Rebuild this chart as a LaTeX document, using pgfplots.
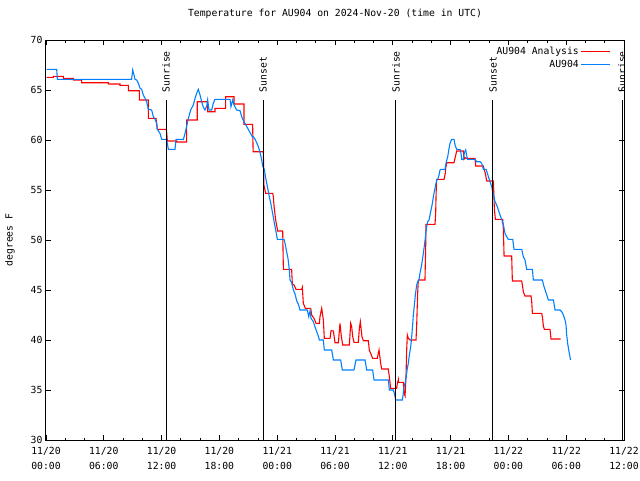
\documentclass[border=0pt]{standalone}
\usepackage{pgfplots}
\pgfplotsset{compat=1.18}
\usepackage{fontspec}
\setmainfont{DejaVu Sans Mono}
\definecolor{obsblue}{RGB}{0,128,255}
\definecolor{anared}{RGB}{255,0,0}
\begin{document}
\begin{tikzpicture}[font=\fontsize{9.8}{15}\selectfont]
\begin{axis}[
  scale only axis, width=578bp, height=400bp,
  xmin=0, xmax=60, ymin=30, ymax=70,
  xtick={0,6,...,60}, minor x tick num=2,
  xticklabels={11/20\\00:00,11/20\\06:00,11/20\\12:00,11/20\\18:00,11/21\\00:00,11/21\\06:00,11/21\\12:00,11/21\\18:00,11/22\\00:00,11/22\\06:00,11/22\\12:00},
  xticklabel style={align=center, yshift=-3.5bp},
  ytick={30,35,...,70},
  /pgf/number format/assume math mode=true,
  tick align=inside, major tick length=5bp, minor tick length=2.5bp,
  axis line style={line width=1bp}, every tick/.style={black, line width=0.8bp},
  title={Temperature for AU904 on 2024-Nov-20 (time in UTC)},
  title style={at={(rel axis cs:0.5,1.05)}, anchor=center},
  ylabel={degrees F},
  every axis y label/.style={at={(rel axis cs:-0.0623,0.5)}, rotate=90, anchor=center},
  legend plot pos=right, legend cell align=right,
  legend style={draw=none, fill=none, at={(rel axis cs:0.982,0.992)}, anchor=north east,
    row sep=1.5bp, nodes={inner sep=1.5bp}},
  legend image code/.code={\draw[#1] (3bp,0bp) -- (32bp,0bp);},
]
\addplot[anared, line width=1.1bp] coordinates {
(0.07,66.27) (0.76,66.27) (0.76,66.37) (1.80,66.37) (1.80,66.17) (2.84,66.17) (2.84,66.00) (3.70,66.00) (3.70,65.73) (6.47,65.73) (6.47,65.60) (7.68,65.60) (7.68,65.47) (8.55,65.47) (8.55,64.93) (9.69,64.93) (9.69,64.00) (10.62,64.00) (10.62,62.17) (11.42,62.17) (11.55,61.07) (12.50,61.07) (12.60,59.90) (13.57,59.90) (13.57,59.80) (14.60,59.80) (14.60,62.00) (15.70,62.00) (15.70,63.83) (16.78,63.83) (16.78,62.83) (17.54,62.83) (17.54,63.17) (18.65,63.17) (18.65,64.33) (19.52,64.33) (19.52,63.60) (20.55,63.60) (20.55,61.57) (21.45,61.57) (21.50,58.83) (22.56,58.83) (22.62,55.50) (22.80,54.67) (23.53,54.67) (23.60,54.33) (23.67,53.40) (23.84,52.00) (24.05,50.90) (24.57,50.90) (24.64,47.07) (25.50,47.07) (25.57,45.60) (25.75,45.50) (25.95,45.07) (26.54,45.07) (26.61,45.27) (26.71,43.67) (26.92,43.17) (27.48,43.17) (27.58,42.50) (27.82,42.17) (28.03,41.67) (28.38,41.67) (28.44,42.33) (28.62,43.17) (28.79,42.00) (28.89,40.17) (29.48,40.17) (29.59,40.93) (29.83,40.90) (30.00,39.73) (30.35,39.73) (30.52,41.67) (30.66,40.33) (30.80,39.50) (31.49,39.50) (31.63,41.67) (31.73,41.33) (31.84,40.33) (31.97,39.77) (32.42,39.77) (32.53,41.17) (32.63,41.83) (32.80,40.33) (32.94,39.93) (33.46,39.93) (33.56,39.00) (33.81,38.40) (33.91,38.17) (34.39,38.17) (34.57,39.00) (34.74,37.67) (34.85,37.10) (35.53,37.10) (35.64,36.33) (35.78,35.17) (36.40,35.17) (36.47,35.67) (36.57,36.00) (36.57,35.77) (37.09,35.77) (37.16,34.67) (37.27,34.40) (37.37,36.33) (37.44,39.00) (37.51,40.50) (37.61,40.17) (37.79,40.00) (38.41,40.00) (38.48,41.50) (38.58,44.67) (38.65,46.00) (39.34,46.00) (39.42,49.67) (39.45,51.57) (40.38,51.57) (40.45,52.67) (40.50,54.83) (40.56,56.07) (41.32,56.07) (41.45,56.67) (41.49,57.17) (41.60,57.73) (42.35,57.73) (42.46,58.17) (42.63,58.90) (43.32,58.90) (43.39,58.07) (43.50,58.23) (43.60,58.17) (44.54,58.17) (44.60,57.40) (45.40,57.40) (45.50,57.00) (45.60,56.67) (45.75,55.90) (46.44,55.90) (46.51,54.00) (46.55,53.00) (46.65,52.07) (47.41,52.07) (47.48,51.00) (47.55,48.40) (48.34,48.40) (48.41,45.90) (49.38,45.90) (49.45,45.50) (49.55,44.83) (49.72,44.40) (50.35,44.40) (50.42,43.83) (50.49,42.67) (51.46,42.67) (51.55,42.17) (51.63,41.40) (51.73,41.07) (52.32,41.07) (52.42,40.10) (53.43,40.10)
};
\addlegendentry{AU904 Analysis}
\addplot[obsblue, line width=1.1bp] coordinates {
(0.07,67.07) (1.11,67.07) (1.18,66.07) (8.89,66.07) (9.00,67.00) (9.14,66.50) (9.24,66.07) (9.41,66.00) (9.59,65.67) (9.76,65.17) (9.93,65.07) (10.10,64.50) (10.28,64.17) (10.45,63.83) (10.62,63.07) (10.97,63.00) (11.14,62.33) (11.32,62.07) (11.49,61.67) (11.56,61.07) (11.83,60.67) (12.01,60.07) (12.53,60.07) (12.70,59.07) (13.39,59.07) (13.50,60.07) (14.26,60.07) (14.36,60.40) (14.53,61.07) (14.78,62.17) (15.02,63.00) (15.29,63.50) (15.47,64.17) (15.64,64.67) (15.81,65.07) (15.99,64.50) (16.16,63.83) (16.33,63.27) (16.51,63.00) (16.68,63.40) (16.78,64.00) (16.92,63.00) (17.20,63.00) (17.37,63.67) (17.54,64.07) (19.10,64.07) (19.20,63.33) (19.38,64.00) (19.52,63.50) (19.79,63.00) (20.14,62.93) (20.31,62.33) (20.55,61.83) (21.00,61.07) (21.42,60.33) (21.52,60.33) (21.70,60.07) (21.87,59.73) (22.04,59.33) (22.15,59.00) (22.28,58.50) (22.39,58.00) (22.49,57.40) (22.67,57.07) (22.77,56.40) (22.91,55.67) (23.05,55.00) (23.18,54.33) (23.32,53.73) (23.46,53.00) (23.60,52.27) (23.74,51.50) (23.88,50.83) (24.01,50.07) (24.71,50.07) (24.85,49.50) (24.98,48.83) (25.12,48.17) (25.26,47.00) (25.33,46.00) (25.50,45.73) (25.68,45.00) (25.85,44.60) (26.02,43.93) (26.19,43.60) (26.37,43.00) (27.13,43.00) (27.27,42.33) (27.41,42.93) (27.51,42.17) (27.75,41.83) (27.92,41.33) (28.10,40.83) (28.27,40.40) (28.37,40.00) (28.79,40.00) (28.89,39.00) (29.66,39.00) (29.83,38.00) (30.59,38.00) (30.76,37.00) (31.97,37.00) (32.18,38.00) (33.12,38.00) (33.29,37.00) (33.91,37.00) (34.05,36.00) (35.54,36.00) (35.64,35.00) (36.06,35.00) (36.16,34.67) (36.30,34.00) (36.99,34.00) (37.09,34.67) (37.16,35.33) (37.27,35.67) (37.37,36.17) (37.51,37.17) (37.61,37.67) (37.72,38.50) (37.86,39.33) (37.96,40.33) (38.06,41.50) (38.13,42.50) (38.24,43.50) (38.34,44.50) (38.48,45.50) (38.58,45.83) (38.72,46.00) (38.82,46.67) (38.96,47.33) (39.07,48.00) (39.17,48.67) (39.31,49.67) (39.41,50.50) (39.52,51.33) (39.62,51.83) (39.76,52.00) (39.86,52.50) (39.97,53.00) (40.11,53.67) (40.21,54.33) (40.31,54.83) (40.45,55.50) (40.56,56.00) (40.66,56.07) (40.80,56.50) (40.90,57.00) (41.00,57.07) (41.42,57.07) (41.52,57.67) (41.70,58.33) (41.84,59.17) (41.94,59.67) (42.11,60.07) (42.35,60.07) (42.46,59.50) (42.63,59.07) (42.98,59.07) (43.08,58.67) (43.15,58.07) (43.32,58.07) (43.43,58.73) (43.57,59.00) (43.67,58.40) (43.77,58.07) (44.54,58.07) (44.71,57.83) (45.05,57.83) (45.23,57.67) (45.40,57.07) (45.68,57.07) (45.82,56.67) (45.92,56.33) (46.09,55.83) (46.27,55.33) (46.37,54.83) (46.51,54.33) (46.61,53.83) (46.78,53.50) (46.96,53.00) (47.13,52.50) (47.30,52.07) (47.48,51.50) (47.65,50.67) (47.82,50.33) (47.99,50.07) (48.45,50.07) (48.58,49.07) (49.38,49.07) (49.55,48.33) (49.72,48.00) (49.90,47.07) (50.49,47.07) (50.59,46.00) (51.52,46.00) (51.70,45.33) (51.87,44.83) (52.04,44.33) (52.15,44.00) (52.67,44.00) (52.84,43.00) (53.36,43.00) (53.53,42.83) (53.71,42.50) (53.88,42.00) (53.98,41.50) (54.05,40.50) (54.15,39.67) (54.26,39.00) (54.45,38.00)
};
\addlegendentry{AU904}
% sunrise / sunset markers
\addplot[black, line width=1bp, forget plot] coordinates {(12.46,30) (12.46,64)};
\addplot[black, line width=1bp, forget plot] coordinates {(22.53,30) (22.53,64)};
\addplot[black, line width=1bp, forget plot] coordinates {(36.33,30) (36.33,64)};
\addplot[black, line width=1bp, forget plot] coordinates {(46.40,30) (46.40,64)};
\addplot[black, line width=1bp, forget plot] coordinates {(59.80,30) (59.80,64)};
\node[rotate=90, anchor=west, inner sep=0pt] at (axis cs:12.46,64.75) {Sunrise};
\node[rotate=90, anchor=west, inner sep=0pt] at (axis cs:22.53,64.75) {Sunset};
\node[rotate=90, anchor=west, inner sep=0pt] at (axis cs:36.33,64.75) {Sunrise};
\node[rotate=90, anchor=west, inner sep=0pt] at (axis cs:46.40,64.75) {Sunset};
\node[rotate=90, anchor=west, inner sep=0pt] at (axis cs:59.80,64.75) {Sunrise};
\coordinate (sw) at (rel axis cs:0,0);
\coordinate (ne) at (rel axis cs:1,1);
\end{axis}
\pgfresetboundingbox
\path[use as bounding box] ([shift={(-46bp,-40bp)}]sw) rectangle ([shift={(16bp,40bp)}]ne);
\end{tikzpicture}
\end{document}
